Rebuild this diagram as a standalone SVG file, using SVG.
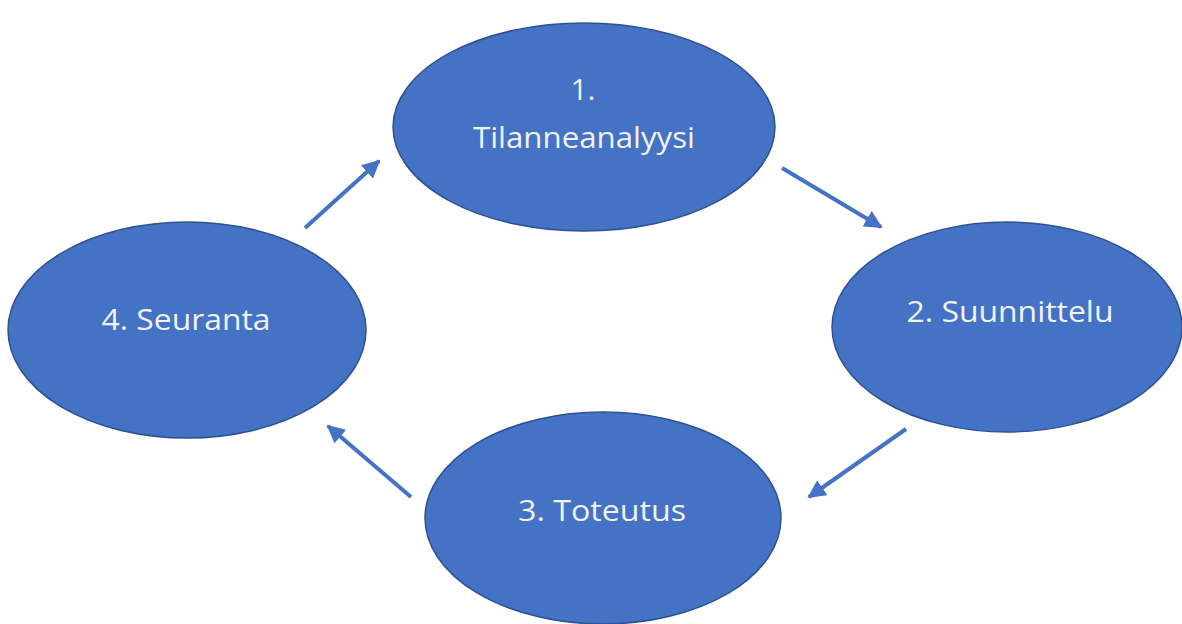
<svg xmlns="http://www.w3.org/2000/svg" width="1182" height="624" viewBox="0 0 1182 624">
<style>
.node{fill:#4472C4;stroke:#2F528F;stroke-width:1.5}
.lbl{fill:#F2F2F2;font-family:"Open Sans","Noto Sans",sans-serif;font-size:30px;text-anchor:middle}
.conn{stroke:#4472C4;stroke-width:4;fill:none;marker-end:url(#ah)}
</style>
<defs>
<marker id="ah" viewBox="0 0 10 10" refX="9" refY="5" markerWidth="4.5" markerHeight="4.5" orient="auto" markerUnits="strokeWidth">
<path d="M0,0 L10,5 L0,10 z" fill="#4472C4"/>
</marker>
</defs>
<rect width="1182" height="624" fill="#FFFFFF"/>
<g id="node1">
<ellipse class="node" cx="584" cy="127" rx="191" ry="104"/>
<text class="lbl" x="583" y="100">1.</text>
<text class="lbl" x="584" y="148" textLength="222" lengthAdjust="spacingAndGlyphs">Tilanneanalyysi</text>
</g>
<g id="node2">
<ellipse class="node" cx="1007" cy="327" rx="175" ry="105"/>
<text class="lbl" x="1010" y="322" textLength="207" lengthAdjust="spacingAndGlyphs">2. Suunnittelu</text>
</g>
<g id="node3">
<ellipse class="node" cx="603" cy="518" rx="178" ry="106"/>
<text class="lbl" x="602" y="521" textLength="168" lengthAdjust="spacingAndGlyphs">3. Toteutus</text>
</g>
<g id="node4">
<ellipse class="node" cx="187" cy="330" rx="179" ry="108"/>
<text class="lbl" x="186" y="330" textLength="169" lengthAdjust="spacingAndGlyphs">4. Seuranta</text>
</g>
<g id="connectors">
<line class="conn" x1="305" y1="228" x2="379" y2="161"/>
<line class="conn" x1="782" y1="168" x2="881" y2="227"/>
<line class="conn" x1="906" y1="429" x2="809" y2="497"/>
<line class="conn" x1="411" y1="497" x2="328" y2="426"/>
</g>
</svg>
